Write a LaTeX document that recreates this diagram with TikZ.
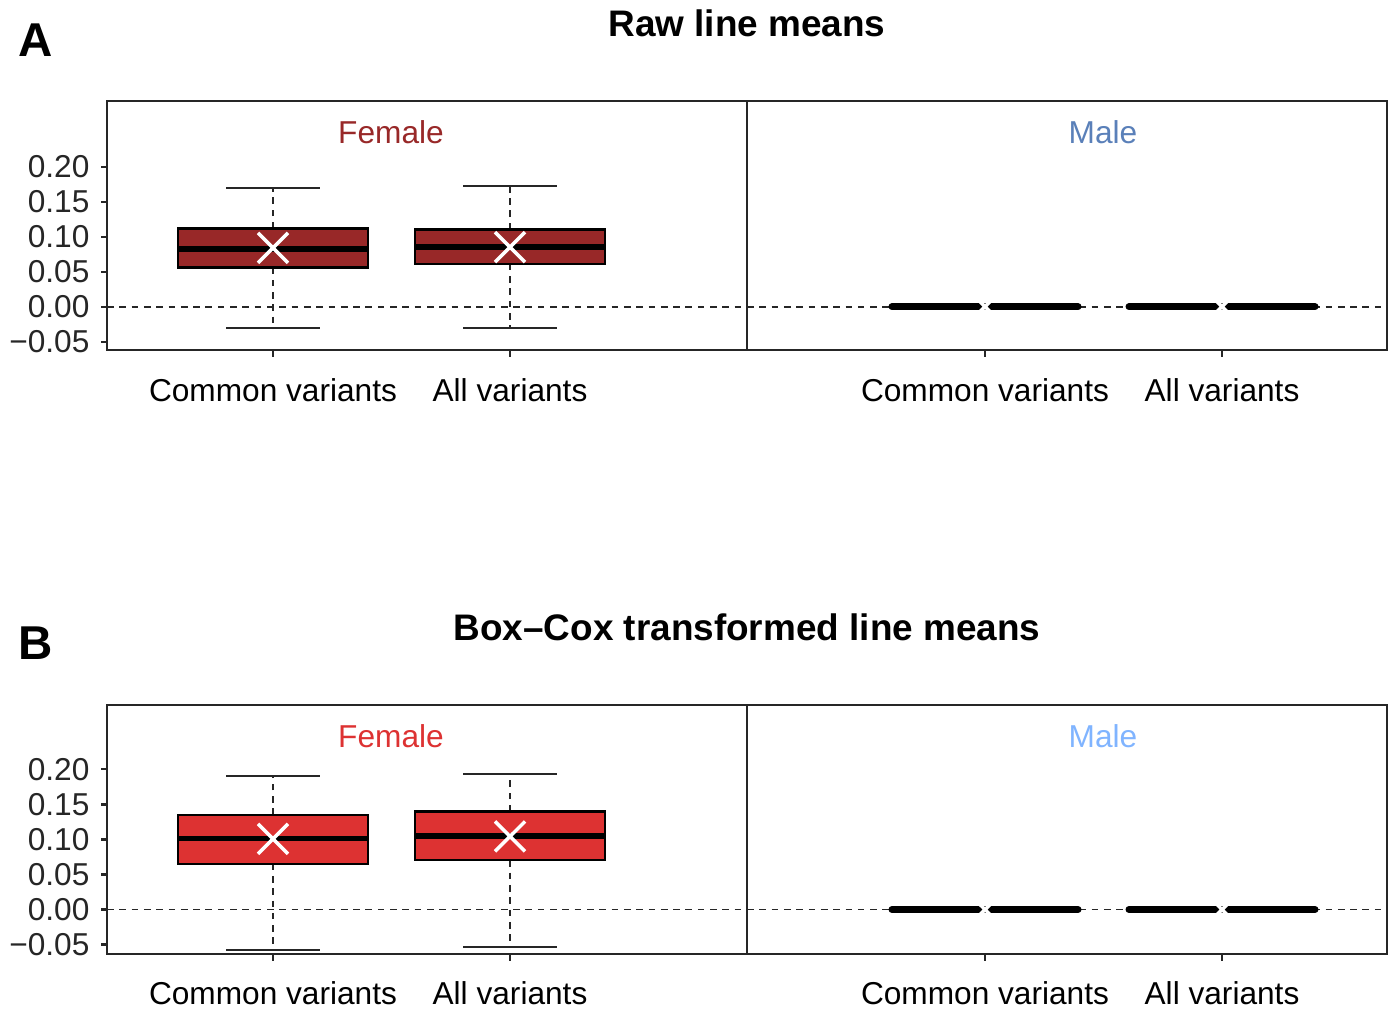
\documentclass[tikz,border=0pt]{standalone}
\usepackage{fontspec}
\setmainfont{Liberation Sans}
\definecolor{femA}{HTML}{982828}
\definecolor{malA}{HTML}{5A80B9}
\definecolor{femB}{HTML}{DD3232}
\definecolor{malB}{HTML}{80B4FF}
\begin{document}
\begin{tikzpicture}[x=0.01cm, y=-0.01cm]
            \tikzset{lab/.style={font=\fontsize{9}{10}\selectfont, inner sep=0pt},
                     ttl/.style={font=\bfseries\fontsize{10.5}{12}\selectfont, inner sep=0pt},
                     tag/.style={font=\bfseries\fontsize{13.5}{15}\selectfont, inner sep=0pt},
                     frame/.style={line width=0.6pt, black!85},
                     zero/.style={line width=0.55pt, black!85, dash pattern=on 1.9pt off 1.6pt},
                     whisk/.style={line width=0.55pt, black!85, dash pattern=on 1.9pt off 1.6pt},
                     capline/.style={line width=0.55pt, black!85},
                     med/.style={line width=1.7pt, black},
                     medm/.style={line width=2pt, black, line cap=round},
                     meanx/.style={line width=1pt, white}}
            \useasboundingbox (0,0) rectangle (1388,1008);
            \node[tag] (tagA) at (36,40) {A};
            \node[ttl] (titleA) at (747,23) {Raw line means};
            \node[tag] (tagB) at (36,643) {B};
            \node[ttl] (titleB) at (747,627) {Box–Cox transformed line means};
            % panel A
            \begin{scope}[shift={(0,306.7)}, y=7cm]
            \draw[zero] (107,0) -- (1387,0);
            \foreach \cx/\lo/\qa/\md/\qb/\hi/\mn in {273/-0.0300/0.0560/0.0826/0.1116/0.1700/0.0840, 510/-0.0309/0.0613/0.0847/0.1103/0.1727/0.0850} {
                \draw[whisk] (\cx,\qb) -- (\cx,\hi);
                \draw[whisk] (\cx,\qa) -- (\cx,\lo);
                \draw[capline] (\cx-47,\hi) -- (\cx+47,\hi);
                \draw[capline] (\cx-47,\lo) -- (\cx+47,\lo);
                \draw[line width=0.6pt, fill=femA] (\cx-95,\qa) rectangle (\cx+95,\qb);
                \draw[med] (\cx-95,\md) -- (\cx+95,\md);
                \draw[meanx] (\cx-15,\mn-0.0214) -- (\cx+15,\mn+0.0214) (\cx-15,\mn+0.0214) -- (\cx+15,\mn-0.0214);
            }
            \foreach \cx in {985, 1222} {
                \draw[medm] (\cx-93,0) -- (\cx+93,0);
                \draw[meanx] (\cx-15,-0.0214) -- (\cx+15,0.0214) (\cx-15,0.0214) -- (\cx+15,-0.0214);
            }
            \draw[frame] (107,-0.0619) rectangle (1387,0.2939);
            \draw[frame] (747,-0.0619) -- (747,0.2939);
            \foreach \v/\t [count=\i] in {0.20/0.20, 0.15/0.15, 0.10/0.10, 0.05/0.05, 0/0.00, -0.05/−0.05}
                \draw[frame] (107,\v) -- (101,\v) node[lab, anchor=east, xshift=-3pt] (yA\i) {\t};
            \foreach \cx/\t [count=\i] in {273/Common variants, 510/All variants, 985/Common variants, 1222/All variants} {
                \draw[frame] (\cx,-0.0619) -- (\cx,-0.0719);
                \node[lab] (xA\i) at (\cx,-0.119) {\t};
            }
            \node[lab, text=femA] (femaleA) at (391,0.2496) {Female};
            \node[lab, text=malA] (maleA) at (1103,0.2496) {Male};
            \end{scope}
            % panel B
            \begin{scope}[shift={(0,909.5)}, y=7cm]
            \draw[zero] (107,0) -- (1387,0);
            \foreach \cx/\lo/\qa/\md/\qb/\hi/\mn in {273/-0.0577/0.0656/0.1014/0.1349/0.1900/0.1009, 510/-0.0539/0.0703/0.1056/0.1399/0.1940/0.1043} {
                \draw[whisk] (\cx,\qb) -- (\cx,\hi);
                \draw[whisk] (\cx,\qa) -- (\cx,\lo);
                \draw[capline] (\cx-47,\hi) -- (\cx+47,\hi);
                \draw[capline] (\cx-47,\lo) -- (\cx+47,\lo);
                \draw[line width=0.6pt, fill=femB] (\cx-95,\qa) rectangle (\cx+95,\qb);
                \draw[med] (\cx-95,\md) -- (\cx+95,\md);
                \draw[meanx] (\cx-15,\mn-0.0214) -- (\cx+15,\mn+0.0214) (\cx-15,\mn+0.0214) -- (\cx+15,\mn-0.0214);
            }
            \foreach \cx in {985, 1222} {
                \draw[medm] (\cx-93,0) -- (\cx+93,0);
                \draw[meanx] (\cx-15,-0.0214) -- (\cx+15,0.0214) (\cx-15,0.0214) -- (\cx+15,-0.0214);
            }
            \draw[frame] (107,-0.0637) rectangle (1387,0.2921);
            \draw[frame] (747,-0.0637) -- (747,0.2921);
            \foreach \v/\t [count=\i] in {0.20/0.20, 0.15/0.15, 0.10/0.10, 0.05/0.05, 0/0.00, -0.05/−0.05}
                \draw[frame] (107,\v) -- (101,\v) node[lab, anchor=east, xshift=-3pt] (yB\i) {\t};
            \foreach \cx/\t [count=\i] in {273/Common variants, 510/All variants, 985/Common variants, 1222/All variants} {
                \draw[frame] (\cx,-0.0637) -- (\cx,-0.0737);
                \node[lab] (xB\i) at (\cx,-0.119) {\t};
            }
            \node[lab, text=femB] (femaleB) at (391,0.2479) {Female};
            \node[lab, text=malB] (maleB) at (1103,0.2479) {Male};
            \end{scope}
\end{tikzpicture}
\end{document}
